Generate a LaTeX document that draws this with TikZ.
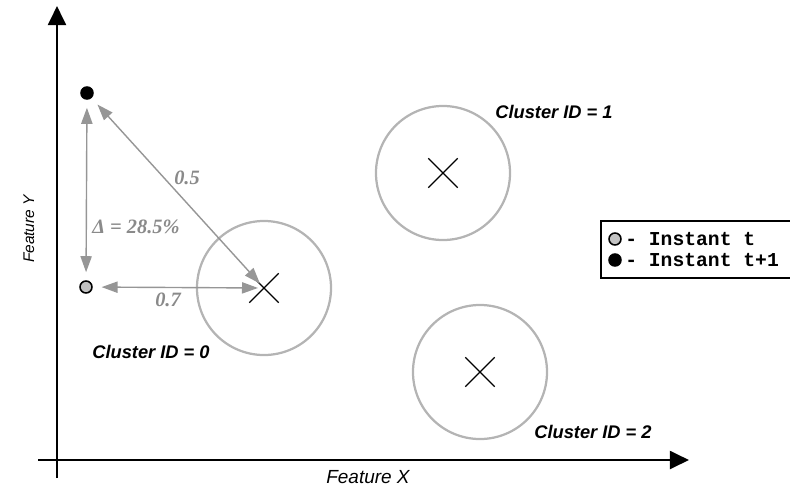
\documentclass[tikz,border=0pt]{standalone}
\usepackage{fontspec}
\setmainfont{Liberation Sans}
\newfontfamily\labelfont{Liberation Serif}
\newfontfamily\legendfont{Liberation Mono}
\usepackage{tikz}
\usetikzlibrary{arrows.meta,shapes.misc}
\definecolor{clgray}{HTML}{B4B4B4}
\definecolor{argray}{HTML}{969696}
\definecolor{txgray}{HTML}{8A8A8A}
\definecolor{ptgray}{HTML}{C2C2C2}

\begin{document}
\begin{tikzpicture}[
  x=0.025cm, y=-0.025cm,
  axis/.style={line width=1.8pt, -{Triangle[length=4.8mm, width=4.5mm]}},
  cluster/.style={circle, draw=clgray, line width=1.6pt, minimum size=3.35cm, inner sep=0pt},
  centroid/.style={cross out, draw=black, line width=0.9pt, minimum size=0.7cm, inner sep=0pt},
  dot/.style={circle, draw=black, line width=1.1pt, minimum size=0.3cm, inner sep=0pt},
  dist/.style={argray, line width=1pt, {Triangle[length=4mm, width=2.8mm]}-{Triangle[length=4mm, width=2.8mm]}},
  dlabel/.style={text=txgray, font=\labelfont\bfseries\itshape\fontsize{14.5}{16}\selectfont},
  clabel/.style={font=\bfseries\itshape\fontsize{13}{15}\selectfont},
  legbox/.style={draw=black, line width=1.6pt, anchor=north west, minimum width=10cm, minimum height=1.42cm},
  legtext/.style={anchor=west, inner sep=0pt, font=\legendfont\bfseries\fontsize{14}{16}\selectfont},
]
\useasboundingbox (0,0) rectangle (790,496);
\clip (0,0) rectangle (790,496);

% axes
\coordinate (xstart) at (38,460);
\coordinate (xend)   at (689,460);
\coordinate (ystart) at (57,478);
\coordinate (yend)   at (57,6);
\draw[axis] (xstart) -- (xend);
\draw[axis] (ystart) -- (yend);
\node[font=\itshape\fontsize{13.5}{15}\selectfont] (xlab) at (368,477) {Feature X};
\node[font=\itshape\fontsize{11}{13}\selectfont, rotate=90] (ylab) at (29,229) {Feature Y};

% clusters
\node[cluster] (c0) at (264,288) {};
\node[cluster] (c1) at (443,173) {};
\node[cluster] (c2) at (480,372) {};
\node[centroid] (x0) at (c0.center) {};
\node[centroid] (x1) at (c1.center) {};
\node[centroid] (x2) at (c2.center) {};
\node[clabel] (l0) at (151,352) {Cluster ID = 0};
\node[clabel] (l1) at (554,112) {Cluster ID = 1};
\node[clabel] (l2) at (593,432) {Cluster ID = 2};

% the point at both instants
\node[dot, fill=black]  (p1) at (87,93)  {};
\node[dot, fill=ptgray] (p0) at (86,287) {};

% distances
\draw[dist, shorten <=0.2cm, shorten >=0.2cm] (p1) -- (p0);
\draw[dist, shorten <=0.22cm, shorten >=0.15cm] (p0) -- (x0.center);
\draw[dist, shorten <=0.22cm, shorten >=0.15cm] (p1) -- (x0.center);
\node[dlabel] (d05)  at (187,178) {0.5};
\node[dlabel] (dd)   at (136,227) {Δ = 28.5\%};
\node[dlabel] (d07)  at (168,300) {0.7};

% legend
\node[legbox] (legend) at (600,220) {};
\node[dot, fill=ptgray] (lt0) at (615,239) {};
\node[dot, fill=black]  (lt1) at (615,260) {};
\node[legtext] (lt0txt) at (625,239) {- Instant t};
\node[legtext] (lt1txt) at (625,260) {- Instant t+1};
\end{tikzpicture}
\end{document}
